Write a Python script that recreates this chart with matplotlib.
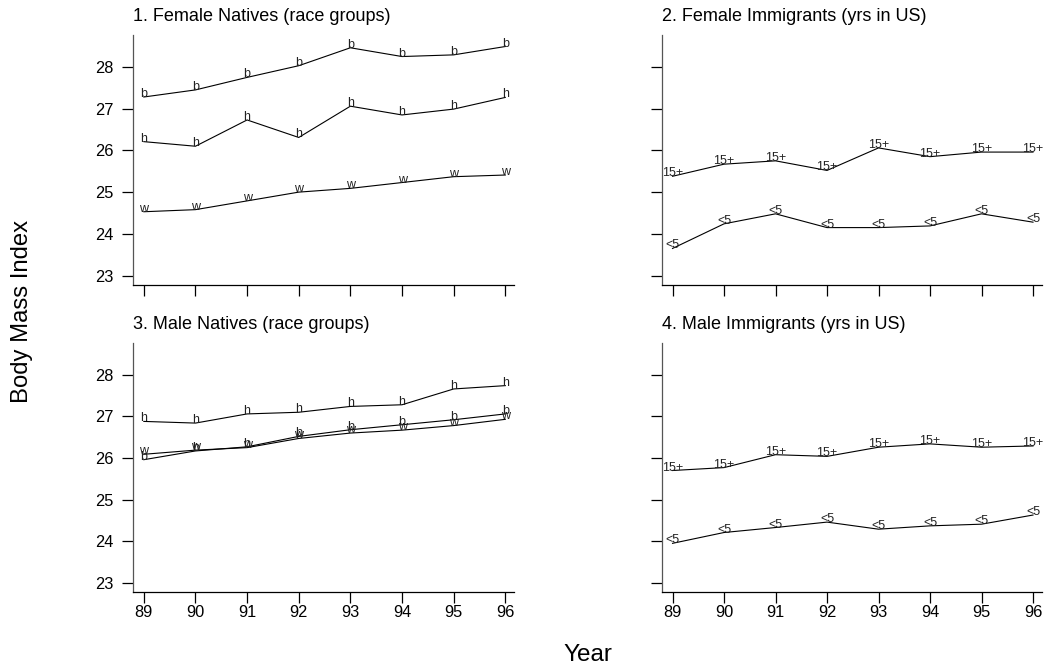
import matplotlib
matplotlib.use("Agg")
import matplotlib.pyplot as plt

plt.rcParams['font.family'] = ['Liberation Sans', 'DejaVu Sans']

years = [89, 90, 91, 92, 93, 94, 95, 96]
year_labels = ["89", "90", "91", "92", "93", "94", "95", "96"]
bmi_ticks = [23, 24, 25, 26, 27, 28]

# panel 1: female natives
fn_b = [27.28, 27.45, 27.75, 28.03, 28.46, 28.25, 28.29, 28.49]
fn_h = [26.21, 26.10, 26.73, 26.31, 27.06, 26.85, 26.99, 27.27]
fn_w = [24.53, 24.58, 24.79, 25.00, 25.09, 25.23, 25.37, 25.41]

# panel 2: female immigrants
fi_15 = [25.38, 25.67, 25.75, 25.52, 26.06, 25.85, 25.96, 25.96]
fi_5 = [23.65, 24.24, 24.48, 24.15, 24.15, 24.19, 24.48, 24.28]

# panel 3: male natives
mn_h = [26.88, 26.84, 27.06, 27.10, 27.24, 27.28, 27.66, 27.74]
mn_b = [25.96, 26.17, 26.27, 26.52, 26.68, 26.80, 26.92, 27.06]
mn_w = [26.09, 26.19, 26.25, 26.47, 26.60, 26.67, 26.78, 26.93]

# panel 4: male immigrants
mi_15 = [25.70, 25.77, 26.08, 26.04, 26.26, 26.34, 26.26, 26.29]
mi_5 = [23.95, 24.21, 24.33, 24.46, 24.29, 24.37, 24.41, 24.63]

panels = [
    ("1. Female Natives (race groups)", [(fn_b, "b"), (fn_h, "h"), (fn_w, "w")], True, False),
    ("2. Female Immigrants (yrs in US)", [(fi_15, "15+"), (fi_5, "<5")], False, False),
    ("3. Male Natives (race groups)", [(mn_h, "h"), (mn_b, "b"), (mn_w, "w")], True, True),
    ("4. Male Immigrants (yrs in US)", [(mi_15, "15+"), (mi_5, "<5")], False, True),
]

positions = [
    [0.127, 0.575, 0.364, 0.373],
    [0.632, 0.575, 0.363, 0.373],
    [0.127, 0.1164, 0.364, 0.372],
    [0.632, 0.1164, 0.363, 0.372],
]

fig = plt.figure(figsize=(10.47, 6.70), dpi=100)

for (title, series, ylab, xlab), pos in zip(panels, positions):
    ax = fig.add_axes(pos)
    for vals, lab in series:
        ax.plot(years, vals, color='black', linewidth=0.8)
        # label each point with the group letter, as in the original
        for x, y in zip(years, vals):
            ax.text(x, y, lab, ha='center', va='baseline', fontsize=9, color='#222222')
    ax.set_xlim(88.79, 96.17)
    ax.set_ylim(22.78, 28.77)
    ax.set_yticks(bmi_ticks)
    ax.set_xticks(years)
    if ylab:
        ax.set_yticklabels([str(t) for t in bmi_ticks])
    else:
        ax.set_yticklabels([])
    if xlab:
        ax.set_xticklabels(year_labels)
    else:
        ax.set_xticklabels([])
    ax.spines['top'].set_visible(False)
    ax.spines['right'].set_visible(False)
    ax.spines['left'].set_color('#555555')
    ax.spines['left'].set_linewidth(0.9)
    ax.spines['bottom'].set_linewidth(0.9)
    ax.tick_params(axis='y', length=8, width=0.9, pad=6, labelsize=11.8)
    ax.tick_params(axis='x', length=8, width=0.9, pad=1.5, labelsize=11.8)
    ax.set_title(title, loc='left', fontsize=13, pad=10)

fig.text(0.021, 0.535, "Body Mass Index", rotation=90, ha='center', va='center', fontsize=17.2)
fig.text(0.561, 0.022, "Year", ha='center', va='center', fontsize=17.5)

fig.savefig("out.png", dpi=100)
